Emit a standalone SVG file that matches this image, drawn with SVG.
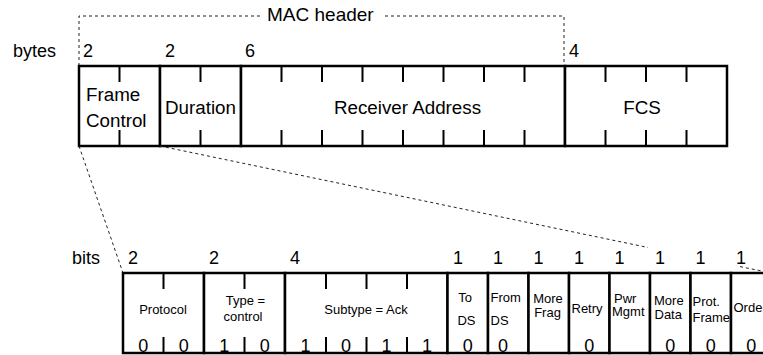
<svg xmlns="http://www.w3.org/2000/svg" width="763" height="355" viewBox="0 0 763 355">
<style>
.box{fill:#fff;stroke:#000;stroke-width:2.5}
.tick{stroke:#000;stroke-width:2}
.dash{fill:none;stroke:#222;stroke-width:1;stroke-dasharray:3 3}
text{font-family:"Liberation Sans",Arial,Helvetica,sans-serif;fill:#000}
.big{font-size:18.8px}
.num{font-size:18px}
.sm{font-size:13px}
.bit{font-size:18px;text-anchor:middle}
.mid{text-anchor:middle}
</style>
<rect width="763" height="355" fill="#fff"/>

<g id="labels">
<text class="num" x="13" y="57">bytes</text>
<text class="num" x="83" y="57">2</text>
<text class="num" x="165" y="57">2</text>
<text class="num" x="245" y="57">6</text>
<text class="num" x="569" y="57">4</text>
<text class="num" x="72" y="264">bits</text>
<text class="num" x="128" y="264">2</text>
<text class="num" x="209" y="264">2</text>
<text class="num" x="290" y="264">4</text>
<text class="num" x="453" y="264">1</text>
<text class="num" x="493" y="264">1</text>
<text class="num" x="533.5" y="264">1</text>
<text class="num" x="574" y="264">1</text>
<text class="num" x="614.5" y="264">1</text>
<text class="num" x="655" y="264">1</text>
<text class="num" x="695.5" y="264">1</text>
<text class="num" x="736" y="264">1</text>
</g>

<g id="mac-header">
<path class="dash" d="M79 66V16H262M385 16H564V66"/>
<text x="267" y="21" style="font-size:19px">MAC header</text>
</g>

<g id="frame-control">
<rect class="box" x="79" y="66" width="81" height="80"/>
<path class="tick" d="M119.5 66v16M119.5 130v16"/>
<text class="big" x="86" y="100.5">Frame</text>
<text class="big" x="86" y="127">Control</text>
</g>
<g id="duration">
<rect class="box" x="160" y="66" width="81" height="80"/>
<path class="tick" d="M200.5 66v16M200.5 130v16"/>
<text class="big mid" x="200.5" y="114">Duration</text>
</g>
<g id="receiver-address">
<rect class="box" x="241" y="66" width="324" height="80"/>
<path class="tick" d="M281.5 66v16M322 66v16M362.5 66v16M403 66v16M443.5 66v16M484 66v16M524.5 66v16M281.5 130v16M322 130v16M362.5 130v16M403 130v16M443.5 130v16M484 130v16M524.5 130v16"/>
<text class="big mid" x="407.5" y="114">Receiver Address</text>
</g>
<g id="fcs">
<rect class="box" x="565" y="66" width="162" height="80"/>
<path class="tick" d="M605.5 66v16M646 66v16M686.5 66v16M605.5 130v16M646 130v16M686.5 130v16"/>
<text class="big mid" x="642" y="114">FCS</text>
</g>

<g id="connectors">
<line class="dash" x1="79" y1="146" x2="123" y2="273"/>
<line class="dash" x1="160" y1="146" x2="648" y2="247.5"/>
<line class="dash" x1="740" y1="266.6" x2="771.5" y2="273"/>
</g>

<g id="protocol">
<rect class="box" x="123" y="273" width="81" height="80"/>
<path class="tick" d="M163.5 273v16M163.5 337v16"/>
<text class="sm mid" x="163" y="313.5">Protocol</text>
<text class="bit" x="143.3" y="352">0</text>
<text class="bit" x="183.8" y="352">0</text>
</g>
<g id="type">
<rect class="box" x="204" y="273" width="81" height="80"/>
<path class="tick" d="M244.5 273v16M244.5 337v16"/>
<text class="sm mid" x="245.5" y="305">Type =</text>
<text class="sm mid" x="243" y="321">control</text>
<text class="bit" x="224.3" y="352">1</text>
<text class="bit" x="264.8" y="352">0</text>
</g>
<g id="subtype">
<rect class="box" x="285" y="273" width="162.5" height="80"/>
<path class="tick" d="M326 273v16M366.5 273v16M407 273v16M326 337v16M366.5 337v16M407 337v16"/>
<text class="sm mid" x="366" y="314">Subtype = Ack</text>
<text class="bit" x="305.5" y="352">1</text>
<text class="bit" x="346" y="352">0</text>
<text class="bit" x="386.5" y="352">1</text>
<text class="bit" x="427" y="352">1</text>
</g>
<g id="to-ds">
<rect class="box" x="447.5" y="273" width="40.5" height="80"/>
<text class="sm mid" x="465" y="301.5">To</text>
<text class="sm mid" x="466.5" y="325">DS</text>
<text class="bit" x="467.8" y="352">0</text>
</g>
<g id="from-ds">
<rect class="box" x="488" y="273" width="40.5" height="80"/>
<text class="sm" x="490.5" y="301.5">From</text>
<text class="sm" x="490.5" y="325">DS</text>
<text class="bit" x="503" y="352">0</text>
</g>
<g id="more-frag">
<rect class="box" x="528.5" y="273" width="40.5" height="80"/>
<text class="sm mid" x="548" y="303">More</text>
<text class="sm mid" x="547.5" y="317">Frag</text>
</g>
<g id="retry">
<rect class="box" x="569" y="273" width="40.5" height="80"/>
<text class="sm" x="571.5" y="313">Retry</text>
<text class="bit" x="589.3" y="352">0</text>
</g>
<g id="pwr-mgmt">
<rect class="box" x="609.5" y="273" width="40.5" height="80"/>
<text class="sm" x="614" y="302.5">Pwr</text>
<text class="sm" x="612" y="316">Mgmt</text>
</g>
<g id="more-data">
<rect class="box" x="650" y="273" width="40.5" height="80"/>
<text class="sm" x="654" y="305">More</text>
<text class="sm" x="654.5" y="319">Data</text>
<text class="bit" x="670.3" y="352">0</text>
</g>
<g id="prot-frame">
<rect class="box" x="690.5" y="273" width="40.5" height="80"/>
<text class="sm" x="692.5" y="305.5">Prot.</text>
<text class="sm" x="692.5" y="321.5">Frame</text>
<text class="bit" x="710.8" y="352">0</text>
</g>
<g id="order">
<rect class="box" x="731" y="273" width="40.5" height="80"/>
<text class="sm" x="733.5" y="312">Order</text>
<text class="bit" x="751.3" y="352">0</text>
</g>
</svg>
